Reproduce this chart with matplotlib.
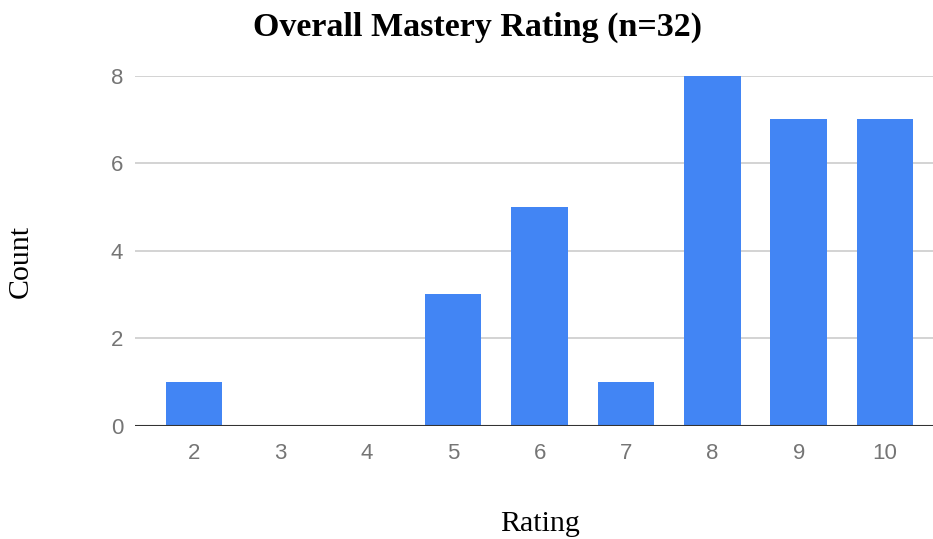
import matplotlib
matplotlib.use("Agg")
import matplotlib.pyplot as plt

ratings = [2, 3, 4, 5, 6, 7, 8, 9, 10]
counts = [1, 0, 0, 3, 5, 1, 8, 7, 7]
yticks = [0, 2, 4, 6, 8]

fig = plt.figure(figsize=(9.33, 5.39), dpi=100)
ax = fig.add_axes([0.1447, 0.2102, 1.0 - 0.1447, 0.8596 - 0.2102])

ax.bar(ratings, counts, width=0.654, color="#4285F4", zorder=3)
ax.set_xlim(1.315, 10.556)
ax.set_ylim(0, 8)
ax.set_xticks(ratings)
ax.set_xticklabels([str(r) for r in ratings])
ax.set_yticks(yticks)
ax.set_yticklabels([str(v) for v in yticks])
ax.grid(axis="y", color="#cccccc", linewidth=1.2, zorder=0)
ax.axhline(0, color="#333333", linewidth=1.5, zorder=4)
for s in ax.spines.values():
    s.set_visible(False)
ax.tick_params(axis="both", length=0, labelsize=16, labelcolor="#757575")
ax.tick_params(axis="x", pad=12.5)
ax.tick_params(axis="y", pad=8.5)
for lab in ax.get_xticklabels() + ax.get_yticklabels():
    lab.set_family("Liberation Sans")

fig.text(0.5118, 0.949, "Overall Mastery Rating (n=32)", ha="center", va="center",
         fontsize=24.5, fontweight="bold", family="Liberation Serif")
fig.text(0.0225, 0.5148, "Count", ha="center", va="center", rotation=90,
         fontsize=21.5, family="Liberation Serif")
fig.text(0.5788, 0.028, "Rating", ha="center", va="center",
         fontsize=21.5, family="Liberation Serif")

fig.savefig("out.png", dpi=100)
